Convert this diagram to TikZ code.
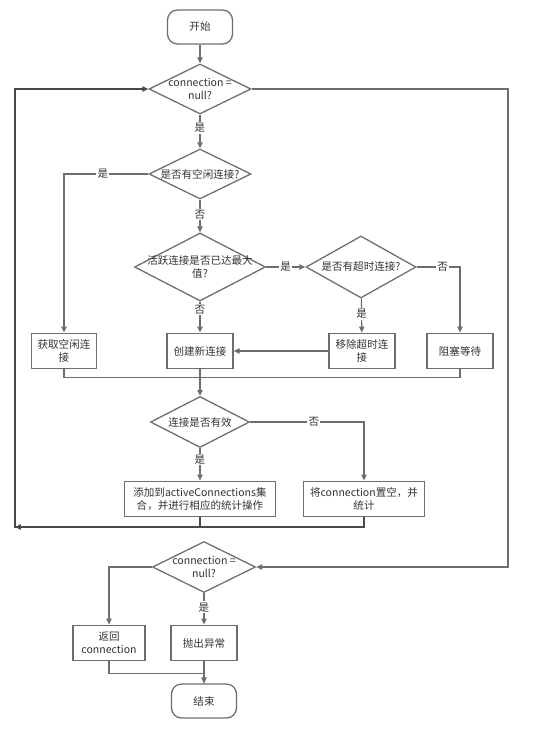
\documentclass[tikz,border=0pt]{standalone}
\usepackage{fontspec}
\setmainfont{Noto Sans CJK SC}
\usepackage{xcolor}
\usetikzlibrary{shapes.geometric,arrows.meta,calc}
\definecolor{edgegray}{HTML}{6E6E6E}
\definecolor{loopgray}{HTML}{4A4A4A}
\definecolor{txtgray}{HTML}{333333}

\begin{document}
\begin{tikzpicture}[x=0.03cm, y=-0.03cm, >={Triangle[length=5pt,width=4.5pt]}]
    \tikzset{
        a/.style={->, draw=edgegray, line width=1pt},
        ln/.style={draw=edgegray, line width=1pt},
        back/.style={->, draw=loopgray, line width=1.5pt},
        term/.style={draw=edgegray, rectangle, rounded corners=0.3cm, line width=1.1pt, minimum width=1.95cm, minimum height=1.02cm, text=txtgray, font=\fontsize{9}{11}\selectfont},
        box/.style={draw=edgegray, rectangle, fill=white, line width=1.1pt, minimum width=#1, minimum height=1.07cm, inner sep=1pt, align=center, text=txtgray, font=\fontsize{9}{11}\selectfont},
        dec/.style 2 args={draw=edgegray, diamond, line width=1.1pt, minimum width=#1, minimum height=#2, inner sep=0pt},
        txt/.style={align=center, inner sep=0pt, text=txtgray, font=\fontsize{9}{11}\selectfont},
        lbl/.style={fill=white, inner sep=1pt, text=txtgray, font=\fontsize{9}{11}\selectfont}
    }

    \useasboundingbox (0,0) rectangle (559,730);

    % upper part
    \node at (200,27) [term] (start) {开始};

    \node at (200,89) [dec={3.06cm}{1.5cm}] (null1) {};
        \node at (null1) [txt] (null1-t) {connection =\\null?};

    \node at (200,174) [dec={3.06cm}{1.5cm}] (idle) {};
        \node at (idle) [txt] (idle-t) {是否有空闲连接?};

    \node at (200,267) [dec={3.93cm}{2.04cm}] (max) {};
        \node at (max) [txt] (max-t) {活跃连接是否已达最大\\值?};

    \node at (361,267) [dec={3.3cm}{1.86cm}] (tmo) {};
        \node at (tmo) [txt] (tmo-t) {是否有超时连接?};

    \node at (64,351) [box=1.95cm] (get) {获取空闲连\\接};
    \node at (200,351) [box=1.98cm] (new) {创建新连接};
    \node at (362,351) [box=1.98cm] (rm) {移除超时连\\接};
    \node at (460,351) [box=1.98cm] (wait) {阻塞等待};

    % middle part
    \node at (200,422) [dec={2.97cm}{1.53cm}] (valid) {};
        \node at (valid) [txt] (valid-t) {连接是否有效};

    \node at (200,499) [box=4.53cm] (add) {添加到activeConnections集\\合，并进行相应的统计操作};
    \node at (364,499) [box=3.63cm] (clr) {将connection置空，并\\统计};

    % lower part
    \node at (204,567) [dec={3.09cm}{1.53cm}] (null2) {};
        \node at (null2) [txt] (null2-t) {connection =\\null?};

    \node at (109,643) [box=2.16cm] (ret) {返回\\connection};
    \node at (204,643) [box=1.98cm] (thr) {抛出异常};
    \node at (204,701) [term] (end) {结束};

    \coordinate (lp) at (15,527);
    \coordinate (rx) at (508,300);

    \draw [a] (start) -- (null1);
    \draw [a] (null1) -- node[lbl, pos=0.4] {是} (idle);
    \draw [a] (idle.west) -| node[lbl, pos=0.27] {是} (get);
    \draw [a] (idle) -- node[lbl, pos=0.45] {否} (max);
    \draw [a] (max) -- node[lbl] {是} (tmo);
    \draw [a] (tmo.east) -| node[lbl, pos=0.3] {否} (wait);
    \draw [a] (tmo) -- node[lbl, pos=0.45] {是} (rm);
    \draw [a] (max) -- node[lbl, pos=0.25] {否} (new);
    \draw [a] (rm) -- (new);

    \draw [ln] (get.south) -- ++(0,8) -| (wait.south);
    \draw [a] (new) -- (valid);

    \draw [a] (valid) -- node[lbl, pos=0.35] {是} (add);
    \draw [a] (valid.east) -| node[lbl, pos=0.28] {否} (clr);

    \draw [back] (clr.south) |- (lp);
    \draw [back] (add.south) |- (lp) |- (null1.west);

    \draw [a] (null1.east) -| (rx) |- (null2.east);

    \draw [a] (null2.west) -| (ret);
    \draw [a] (null2) -- node[lbl, pos=0.45] {是} (thr);
    \draw [a] (ret.south) -- ++(0,12) -| (end.north);
    \draw [a] (thr) -- (end);
\end{tikzpicture}
\end{document}
